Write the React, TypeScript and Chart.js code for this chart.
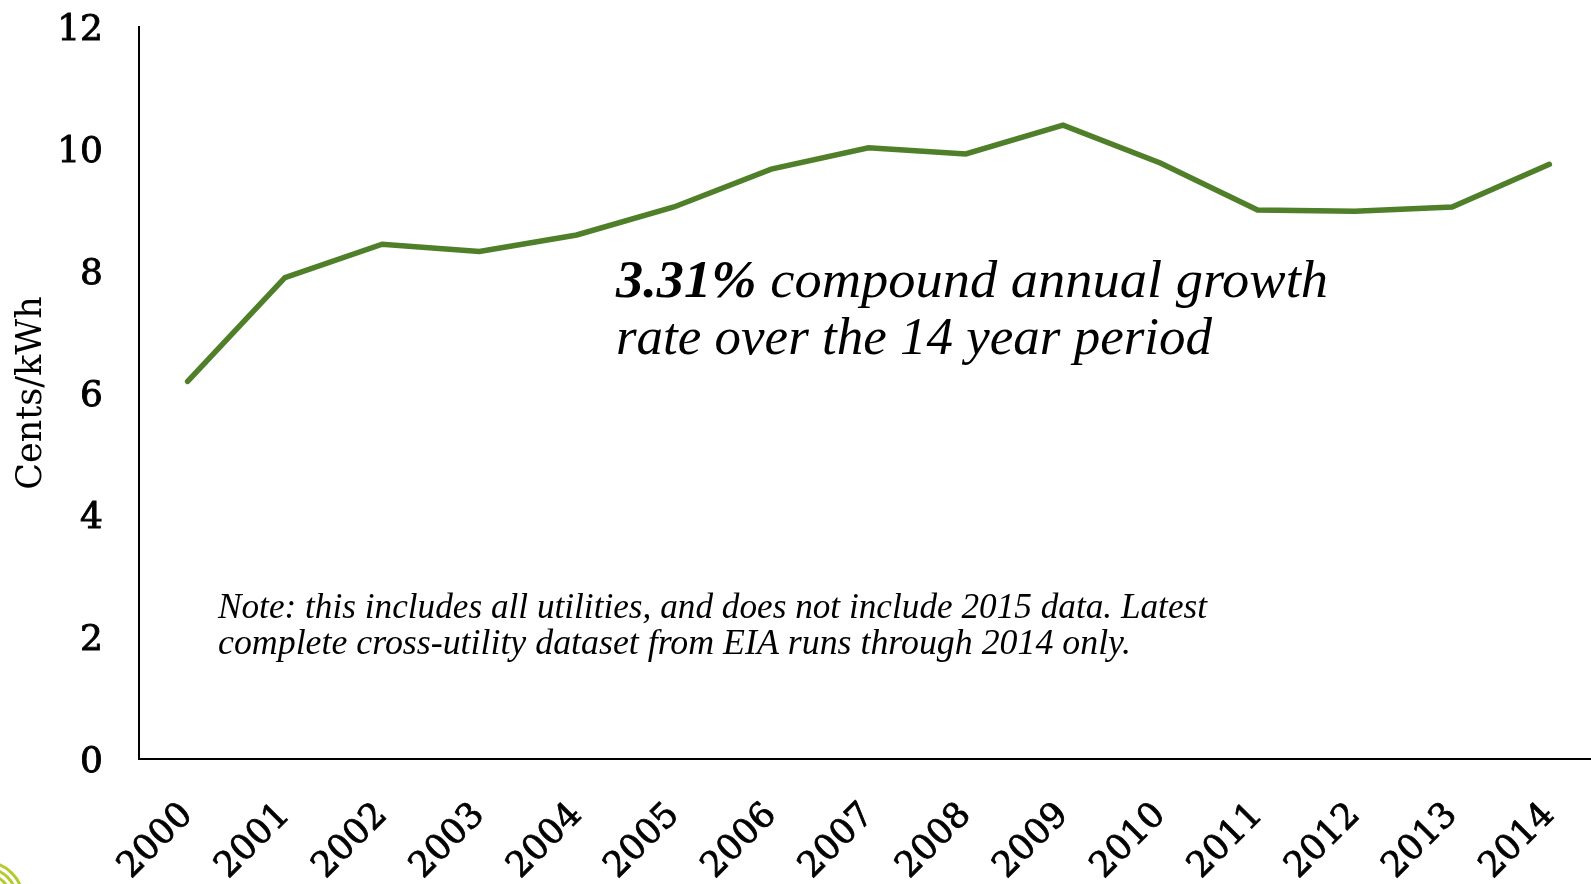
import React, { useEffect, useRef } from "react";
import { Chart, registerables } from "chart.js";

Chart.register(...registerables);

const years = ["2000", "2001", "2002", "2003", "2004", "2005", "2006", "2007", "2008", "2009", "2010", "2011", "2012", "2013", "2014"];
const centsPerKwh = [6.19, 7.89, 8.44, 8.32, 8.59, 9.05, 9.67, 10.02, 9.92, 10.39, 9.77, 9.0, 8.98, 9.05, 9.75];
const yTicks = [0, 2, 4, 6, 8, 10, 12];
const yTitle = "Cents/kWh";
const headlineBold = "3.31%";
const headlineRest = " compound annual growth";
const headlineLine2 = "rate over the 14 year period";
const noteLines = [
  "Note: this includes all utilities, and does not include 2015 data. Latest",
  "complete cross-utility dataset from EIA runs through 2014 only.",
];

const LINE_COLOR = "#4F7F29";
const TICK_FONT = "DejaVu Serif";

// draw a sequence of [text, font] runs starting at x, squeezed/stretched to a target width
function fitRuns(ctx: CanvasRenderingContext2D, runs: [string, string][], x: number, y: number, target: number) {
  let natural = 0;
  for (const [t, f] of runs) {
    ctx.font = f;
    natural += ctx.measureText(t).width;
  }
  const sx = target / natural;
  ctx.save();
  ctx.translate(x, y);
  ctx.scale(sx, 1);
  let cx = 0;
  for (const [t, f] of runs) {
    ctx.font = f;
    ctx.fillText(t, cx, 0);
    cx += ctx.measureText(t).width;
  }
  ctx.restore();
}

const textPlugin = {
  id: "textPlugin",
  afterDraw(chart: any) {
    const ctx = chart.ctx as CanvasRenderingContext2D;
    ctx.save();
    ctx.fillStyle = "#000";
    ctx.textAlign = "left";
    ctx.textBaseline = "alphabetic";
    const hb = "italic bold 53px 'Liberation Serif'";
    const hr = "italic 53px 'Liberation Serif'";
    fitRuns(ctx, [[headlineBold, hb], [headlineRest, hr]], 616, 297, 712);
    fitRuns(ctx, [[headlineLine2, hr]], 616, 354, 596);
    const nf = "italic 35px 'Liberation Serif'";
    fitRuns(ctx, [[noteLines[0], nf]], 218, 618, 989);
    fitRuns(ctx, [[noteLines[1], nf]], 218, 654, 913);
    // partial logo at bottom-left
    ctx.strokeStyle = "#B3CB2D";
    ctx.lineWidth = 3;
    [38, 32, 26].forEach((r) => {
      ctx.beginPath();
      ctx.arc(-15, 900, r, 0, Math.PI * 2);
      ctx.stroke();
    });
    ctx.restore();
  },
};

export default function App() {
  const ref = useRef<HTMLCanvasElement | null>(null);
  useEffect(() => {
    if (!ref.current) return;
    const chart = new Chart(ref.current, {
      type: "line",
      data: {
        labels: years,
        datasets: [
          {
            data: centsPerKwh,
            borderColor: LINE_COLOR,
            borderWidth: 5.5,
            pointRadius: 0,
            borderCapStyle: "round",
            borderJoinStyle: "miter",
            tension: 0,
            fill: false,
          },
        ],
      },
      options: {
        responsive: false,
        animation: false,
        devicePixelRatio: 1,
        layout: { padding: { top: 27, left: 0, right: 0, bottom: 0 } },
        plugins: { legend: { display: false }, tooltip: { enabled: false } },
        scales: {
          x: {
            type: "category",
            offset: true,
            grid: { display: false, drawTicks: false },
            border: { display: true, color: "#000", width: 2 },
            ticks: {
              autoSkip: false,
              minRotation: 45,
              maxRotation: 45,
              padding: 36,
              color: "#000",
              textStrokeColor: "#000",
              textStrokeWidth: 0.8,
              font: { family: TICK_FONT, size: 35 },
            },
            afterFit(scale: any) {
              scale.height = 125;
              scale.paddingLeft = 0;
              scale.paddingRight = 0;
            },
          },
          y: {
            min: 0,
            max: 12,
            afterBuildTicks(scale: any) {
              scale.ticks = yTicks.map((v) => ({ value: v }));
            },
            grid: { display: false, drawTicks: false },
            border: { display: true, color: "#000", width: 2 },
            ticks: {
              padding: 36,
              labelOffset: 4,
              color: "#000",
              textStrokeColor: "#000",
              textStrokeWidth: 0.9,
              font: { family: TICK_FONT, size: 36 },
            },
            title: {
              display: true,
              text: yTitle,
              color: "#000",
              font: { family: TICK_FONT, size: 35 },
              padding: { top: 11, bottom: 0 },
            },
            afterFit(scale: any) {
              scale.width = 139;
              scale.paddingTop = 0;
              scale.paddingBottom = 0;
            },
          },
        },
      },
      plugins: [textPlugin],
    });
    return () => chart.destroy();
  }, []);
  return (
    <div style={{ position: "fixed", left: 0, top: 0, width: 1591, height: 884, overflow: "hidden", background: "#fff" }}>
      <canvas ref={ref} width={1598} height={884} style={{ display: "block", width: 1598, height: 884 }} />
    </div>
  );
}
